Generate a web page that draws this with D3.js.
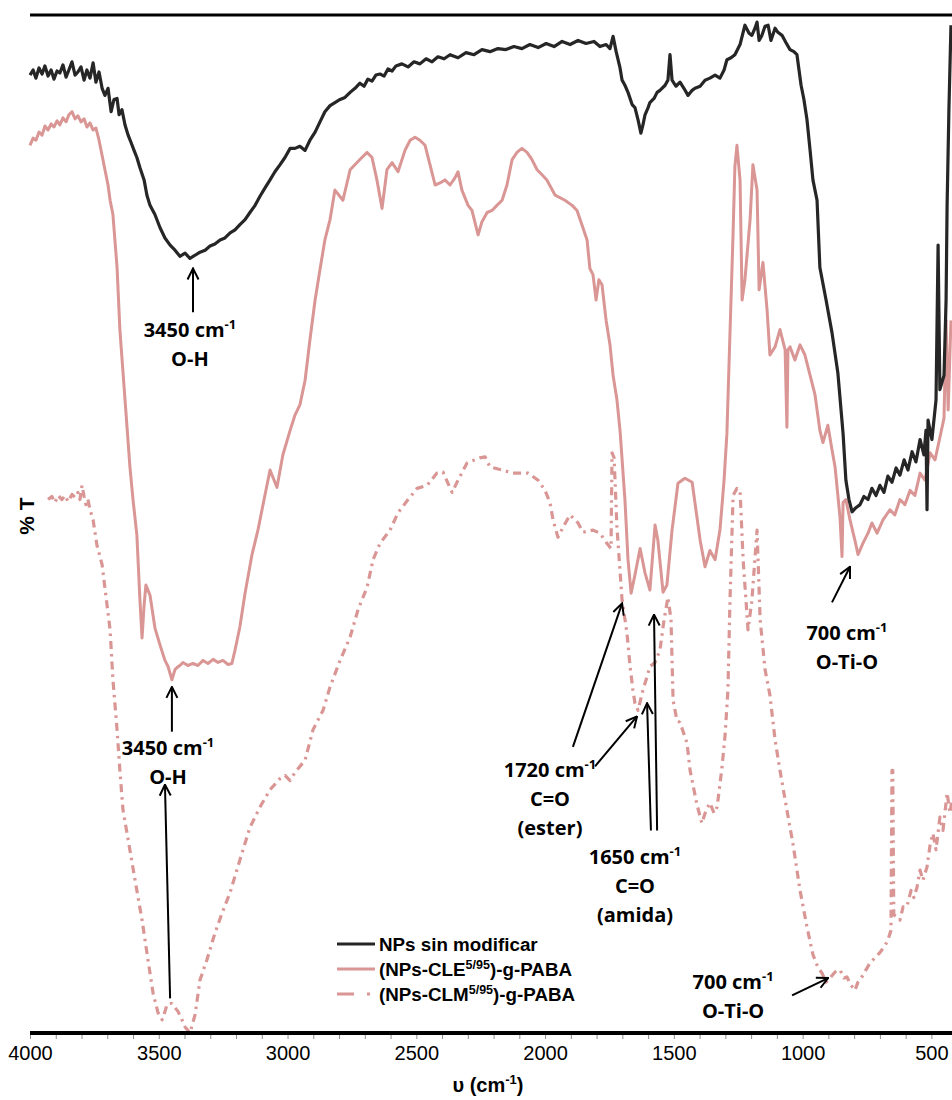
<!DOCTYPE html>
<html>
<head>
<meta charset="utf-8">
<script src="https://cdn.jsdelivr.net/npm/d3@7"></script>
<style>
  body { margin: 0; background: #ffffff; }
  svg { display: block; }
</style>
</head>
<body>
<svg id="chart" width="952" height="1100"></svg>
<script>
// FTIR spectra: wavenumber (cm-1) vs. transmittance (%T, offset traces)
const seriesNames = ["NPs sin modificar", "(NPs-CLE", "(NPs-CLM"];
const seriesSup = ["", "5/95", "5/95"];
const seriesTail = ["", ")-g-PABA", ")-g-PABA"];
const majorTicks = [4000, 3500, 3000, 2500, 2000, 1500, 1000, 500];
const minorTicks = d3.range(4000, 419, -100);

// NPs sin modificar  [wavenumber, %T]
const npsBare = [
  [4000,94.1],[3988,94.6],[3977,93.8],[3965,94.8],[3953,94.2],[3942,95.0],[3930,94.0],[3918,94.6],[3907,93.7],[3895,94.5],
  [3884,94.3],[3872,95.1],[3860,93.9],[3849,94.6],[3837,95.4],[3825,94.1],[3814,94.4],[3802,94.9],[3790,93.6],[3779,94.6],
  [3767,93.8],[3755,95.3],[3744,93.4],[3732,94.4],[3720,92.8],[3709,92.1],[3697,92.8],[3685,90.5],[3674,91.7],[3662,91.8],
  [3654,90.2],[3643,90.7],[3631,89.2],[3619,88.2],[3608,87.5],[3596,86.7],[3585,86.0],[3573,85.0],[3557,83.8],[3546,82.3],
  [3534,81.3],[3515,80.4],[3495,79.1],[3476,78.1],[3456,77.4],[3437,76.9],[3418,76.3],[3398,76.6],[3379,76.1],[3359,76.4],
  [3340,76.7],[3320,76.9],[3301,77.3],[3282,77.5],[3262,77.9],[3243,78.1],[3223,78.6],[3204,78.9],[3185,79.4],[3165,79.9],
  [3146,80.6],[3126,81.3],[3107,82.2],[3088,83.0],[3068,83.8],[3049,84.6],[3029,85.3],[3010,86.0],[2990,86.9],[2971,86.9],
  [2952,87.1],[2932,86.7],[2913,87.7],[2893,88.5],[2874,89.5],[2855,90.5],[2835,91.1],[2816,91.4],[2796,91.7],[2777,91.9],
  [2757,92.4],[2738,92.8],[2719,93.3],[2703,93.0],[2688,93.7],[2672,93.5],[2657,94.1],[2641,94.2],[2625,94.0],[2610,94.7],
  [2594,94.5],[2579,95.0],[2556,95.2],[2532,94.9],[2509,95.4],[2486,95.2],[2462,95.7],[2439,95.4],[2416,95.9],[2392,95.7],
  [2369,96.1],[2338,95.8],[2307,96.3],[2276,96.1],[2245,96.6],[2214,96.4],[2183,96.7],[2152,96.6],[2121,96.9],[2090,96.7],
  [2059,97.1],[2027,96.8],[1996,97.2],[1965,96.9],[1934,97.4],[1903,97.1],[1872,97.5],[1841,97.2],[1810,97.4],[1787,96.9],
  [1763,97.1],[1748,96.7],[1736,97.9],[1724,96.4],[1709,94.8],[1701,93.6],[1690,93.1],[1678,92.4],[1662,91.2],[1651,90.9],
  [1639,89.7],[1628,88.4],[1620,89.2],[1612,90.2],[1600,90.9],[1593,91.4],[1577,91.8],[1565,92.4],[1554,92.6],[1534,93.1],
  [1523,93.6],[1515,96.1],[1507,93.6],[1492,93.0],[1476,93.4],[1461,92.8],[1445,92.1],[1429,92.6],[1418,92.8],[1398,93.0],
  [1379,93.6],[1360,93.8],[1340,94.1],[1321,93.8],[1305,94.6],[1294,95.6],[1278,95.8],[1263,96.1],[1243,97.1],[1224,99.0],
  [1208,98.2],[1197,98.0],[1185,98.7],[1177,99.3],[1169,97.5],[1158,98.0],[1146,98.9],[1134,99.0],[1123,97.5],[1107,98.7],
  [1096,98.3],[1080,98.0],[1065,97.3],[1049,96.6],[1034,96.4],[1022,96.1],[1006,93.1],[995,91.7],[983,89.7],[971,86.7],
  [960,83.8],[944,81.8],[933,75.2],[909,72.0],[886,68.8],[863,64.8],[843,58.9],[832,54.3],[820,52.4],[808,51.2],
  [793,51.6],[777,51.9],[762,52.7],[746,52.4],[731,53.5],[715,52.8],[700,53.8],[684,53.1],[669,54.7],[653,54.1],
  [637,55.5],[622,54.8],[606,56.3],[591,55.3],[575,57.1],[560,56.1],[544,58.3],[529,56.8],[521,59.2],[517,51.4],
  [513,60.2],[498,58.3],[482,62.2],[474,77.4],[467,63.2],[451,64.6],[443,72.0],[439,81.3],[432,90.7],[424,99.0]
];

// (NPs-CLE5/95)-g-PABA
const npsCLE = [
  [4000,87.2],[3988,87.9],[3977,87.7],[3965,88.5],[3953,88.2],[3942,89.1],[3930,88.7],[3918,89.3],[3907,89.0],[3895,89.6],
  [3884,89.2],[3872,89.9],[3860,89.5],[3849,90.2],[3837,90.5],[3825,89.8],[3814,90.1],[3802,89.5],[3790,89.8],[3779,89.0],
  [3767,89.4],[3755,88.7],[3744,88.9],[3732,87.7],[3720,86.2],[3709,84.8],[3697,83.3],[3689,81.8],[3678,80.4],[3662,75.2],
  [3651,69.1],[3631,62.2],[3612,55.6],[3600,52.4],[3585,48.9],[3573,42.5],[3565,38.8],[3557,42.0],[3550,44.0],[3542,43.5],
  [3534,43.0],[3515,39.8],[3495,38.1],[3476,36.6],[3464,36.0],[3449,34.7],[3437,35.7],[3429,35.9],[3418,36.1],[3406,36.4],
  [3387,36.1],[3367,36.3],[3348,36.1],[3328,36.6],[3309,36.3],[3289,36.7],[3270,36.4],[3251,36.6],[3231,36.2],[3216,36.3],
  [3204,37.6],[3185,39.9],[3165,43.2],[3138,47.0],[3115,49.4],[3088,52.8],[3068,55.3],[3041,53.6],[3018,56.8],[2990,59.2],
  [2971,60.7],[2952,61.7],[2932,64.1],[2913,68.1],[2893,72.0],[2874,75.0],[2855,77.9],[2835,79.9],[2816,82.8],[2785,81.8],
  [2757,84.8],[2719,85.8],[2691,86.5],[2672,86.0],[2653,83.8],[2633,81.0],[2614,84.8],[2594,85.5],[2571,84.6],[2544,86.7],
  [2524,87.7],[2505,88.0],[2486,87.7],[2466,87.2],[2447,85.3],[2427,83.3],[2408,83.5],[2389,83.8],[2369,83.3],[2350,84.0],
  [2338,84.6],[2323,82.8],[2299,81.3],[2284,80.8],[2260,78.4],[2245,79.7],[2225,80.6],[2206,80.8],[2187,81.3],[2167,81.8],
  [2148,83.3],[2128,85.8],[2109,86.5],[2090,86.9],[2070,86.5],[2051,85.8],[2031,84.8],[2012,84.3],[1993,83.8],[1961,82.3],
  [1923,81.8],[1895,81.3],[1876,80.8],[1857,79.4],[1837,77.9],[1826,75.1],[1814,74.5],[1802,72.0],[1791,74.0],[1779,73.5],
  [1763,70.0],[1748,67.6],[1736,64.6],[1721,62.2],[1709,59.2],[1690,52.4],[1678,46.5],[1666,43.2],[1651,45.0],[1631,47.6],
  [1612,45.2],[1593,43.5],[1573,49.9],[1562,48.4],[1542,43.3],[1527,44.0],[1507,49.4],[1484,54.0],[1457,54.5],[1429,54.1],
  [1398,48.4],[1379,45.8],[1360,47.4],[1340,46.5],[1321,49.4],[1305,54.3],[1294,58.9],[1282,68.8],[1270,78.6],[1263,85.1],
  [1255,87.2],[1243,83.8],[1235,72.0],[1224,74.0],[1204,79.9],[1193,85.3],[1177,82.8],[1169,73.0],[1154,75.7],[1138,71.0],
  [1127,66.6],[1107,67.4],[1088,69.1],[1068,67.1],[1061,59.5],[1057,67.1],[1049,67.4],[1030,66.1],[1010,67.6],[991,66.6],
  [971,64.6],[952,62.7],[933,59.2],[921,58.0],[902,59.7],[886,57.3],[874,55.6],[855,50.7],[847,46.8],[843,52.1],
  [832,52.4],[816,50.4],[797,48.4],[785,47.0],[766,48.1],[746,49.1],[731,50.1],[711,49.1],[688,50.4],[661,51.4],
  [642,50.9],[622,52.4],[603,51.9],[583,53.3],[564,52.8],[544,55.0],[525,54.3],[505,57.0],[486,56.3],[467,58.5],
  [451,60.4],[443,70.0],[435,61.2],[424,70.0]
];

// (NPs-CLM5/95)-g-PABA
const npsCLM = [
  [3930,52.4],[3915,52.7],[3903,52.1],[3891,52.8],[3876,52.4],[3864,52.8],[3852,52.2],[3837,52.9],[3825,52.6],[3814,53.1],
  [3806,52.4],[3798,53.8],[3790,52.7],[3783,51.9],[3775,52.4],[3767,51.4],[3755,50.4],[3740,47.9],[3720,46.0],[3709,43.7],
  [3689,39.6],[3678,34.7],[3662,29.8],[3651,25.8],[3639,21.9],[3619,19.0],[3592,15.0],[3565,11.1],[3542,7.2],[3522,3.9],
  [3503,2.0],[3487,1.3],[3476,2.1],[3468,2.8],[3456,2.9],[3449,2.9],[3437,2.5],[3425,2.1],[3410,1.3],[3398,0.6],
  [3379,0.0],[3359,1.8],[3340,5.2],[3313,7.2],[3282,9.8],[3254,11.8],[3223,13.8],[3185,17.0],[3146,20.2],[3107,22.2],
  [3068,23.9],[3029,25.0],[3010,25.3],[2990,24.8],[2971,25.6],[2932,26.8],[2901,29.8],[2862,31.7],[2835,34.0],[2796,36.6],
  [2757,38.9],[2726,41.6],[2691,43.8],[2668,46.5],[2641,48.1],[2602,49.4],[2571,51.1],[2532,52.4],[2497,53.5],[2458,53.8],
  [2420,55.0],[2396,55.1],[2377,54.0],[2361,53.1],[2338,54.3],[2303,56.0],[2253,56.5],[2233,56.6],[2214,55.6],[2167,55.3],
  [2125,55.0],[2066,55.0],[2027,54.3],[2000,53.3],[1981,52.1],[1969,50.4],[1950,48.7],[1930,49.7],[1903,50.9],[1872,50.1],
  [1853,49.2],[1814,49.4],[1787,49.1],[1760,48.1],[1744,47.6],[1740,57.0],[1732,56.5],[1721,49.7],[1701,42.5],[1682,39.3],
  [1670,36.0],[1659,33.7],[1651,32.4],[1639,31.7],[1620,33.7],[1604,35.0],[1593,36.0],[1573,36.4],[1554,37.6],[1538,40.6],
  [1523,42.8],[1511,40.6],[1503,32.7],[1488,30.7],[1476,30.5],[1449,28.5],[1437,25.8],[1410,22.4],[1391,20.6],[1375,21.9],
  [1360,22.6],[1344,21.6],[1332,22.2],[1313,26.1],[1301,29.3],[1290,33.7],[1282,42.5],[1270,52.8],[1255,53.5],[1243,53.3],
  [1231,46.5],[1212,39.6],[1197,42.5],[1177,49.4],[1165,40.6],[1146,35.7],[1127,33.2],[1107,28.8],[1088,25.8],[1061,21.9],
  [1037,18.5],[1010,14.0],[983,10.4],[960,7.7],[940,6.4],[925,5.9],[909,5.0],[894,5.4],[874,6.0],[855,6.2],
  [839,5.4],[828,5.5],[812,4.7],[797,4.2],[785,5.0],[770,5.5],[754,6.2],[738,6.9],[719,7.4],[700,7.9],
  [680,8.6],[669,9.1],[657,10.1],[653,25.8],[650,25.8],[646,11.6],[634,11.4],[622,11.1],[610,12.4],[595,12.4],
  [579,14.0],[568,13.3],[556,14.3],[544,16.0],[533,15.0],[517,16.3],[505,18.5],[494,19.6],[482,18.0],[467,21.2],
  [455,19.9],[439,23.6],[428,21.6],[420,22.9]
];

// Band assignments: arrows (tail -> head) and label lines, in [wavenumber, %T]
const bandArrows = [
  { tail: [3367, 70.8], head: [3367, 75.1] },
  { tail: [3449, 29.6], head: [3449, 34.0] },
  { tail: [3456, 3.4],  head: [3476, 24.4] },
  { tail: [1892, 28.1], head: [1701, 42.2] },
  { tail: [1806, 26.2], head: [1643, 31.1] },
  { tail: [1589, 19.9], head: [1604, 32.4] },
  { tail: [1565, 19.9], head: [1577, 41.1] },
  { tail: [886, 42.3],  head: [816, 45.8] },
  { tail: [1041, 3.7],  head: [901, 5.4] }
];
const bandLabels = [
  { at: [3379, 68.4], lines: ["3450 cm|-1", "O-H"] },
  { at: [3464, 27.3], lines: ["3450 cm|-1", "O-H"] },
  { at: [1981, 25.1], lines: ["1720 cm|-1", "C=O", "(ester)"] },
  { at: [1651, 16.6], lines: ["1650 cm|-1", "C=O", "(amida)"] },
  { at: [828, 38.6],  lines: ["700 cm|-1", "O-Ti-O"] },
  { at: [1270, 4.3],  lines: ["700 cm|-1", "O-Ti-O"] }
];

const colBlack = "#262626";
const colPink = "#D99694";

const svg = d3.select("#chart");
const x = d3.scaleLinear().domain([4000, 420]).range([30, 952]);
const y = d3.scaleLinear().domain([0, 100]).range([1033, 15]);

const line = d3.line().x(d => x(d[0])).y(d => y(d[1]));

// top frame line
svg.append("line")
  .attr("x1", x(4000)).attr("x2", x(420))
  .attr("y1", y(100)).attr("y2", y(100))
  .attr("stroke", "#000").attr("stroke-width", 3);

// spectra
svg.append("path").datum(npsCLM)
  .attr("d", line).attr("fill", "none")
  .attr("stroke", colPink).attr("stroke-width", 3.2)
  .attr("stroke-dasharray", "8,5,2.5,5")
  .attr("stroke-linejoin", "round");

svg.append("path").datum(npsCLE)
  .attr("d", line).attr("fill", "none")
  .attr("stroke", colPink).attr("stroke-width", 3)
  .attr("stroke-linejoin", "round");

svg.append("path").datum(npsBare)
  .attr("d", line).attr("fill", "none")
  .attr("stroke", colBlack).attr("stroke-width", 3.2)
  .attr("stroke-linejoin", "round");

// bottom axis
const axis = d3.axisBottom(x)
  .tickValues(minorTicks)
  .tickSize(6)
  .tickPadding(7)
  .tickFormat(d => majorTicks.includes(d) ? d : "");
const gx = svg.append("g").attr("transform", `translate(0,${y(0)})`).call(axis);
gx.select(".domain").remove();
gx.selectAll(".tick line").attr("stroke", "#8c8c8c").attr("stroke-width", 1);
gx.selectAll(".tick text")
  .attr("font-family", "'Liberation Sans', Arial, sans-serif")
  .attr("font-size", 20)
  .attr("fill", "#000");
svg.append("line")
  .attr("x1", x(4000)).attr("x2", x(420))
  .attr("y1", y(0)).attr("y2", y(0))
  .attr("stroke", "#000").attr("stroke-width", 4);

// axis titles
const xt = svg.append("text")
  .attr("x", 488).attr("y", 1092)
  .attr("text-anchor", "middle")
  .attr("font-family", "'Liberation Sans', Arial, sans-serif")
  .attr("font-weight", "bold").attr("font-size", 20).attr("fill", "#000");
xt.append("tspan").text("υ (cm");
xt.append("tspan").attr("dy", -8).attr("font-size", 13).text("-1");
xt.append("tspan").attr("dy", 8).text(")");

svg.append("text")
  .attr("transform", "translate(34,516) rotate(-90)")
  .attr("text-anchor", "middle")
  .attr("font-family", "'Liberation Sans', Arial, sans-serif")
  .attr("font-weight", "bold").attr("font-size", 21).attr("fill", "#000")
  .text("% T");

// arrows
svg.append("defs").append("marker")
  .attr("id", "head")
  .attr("viewBox", "0 0 14 14")
  .attr("refX", 13).attr("refY", 7)
  .attr("markerWidth", 14).attr("markerHeight", 14)
  .attr("markerUnits", "userSpaceOnUse")
  .attr("orient", "auto")
  .append("path")
  .attr("d", "M2,1.5 L13,7 L2,12.5")
  .attr("fill", "none").attr("stroke", "#000").attr("stroke-width", 2);

svg.append("g").selectAll("line").data(bandArrows).join("line")
  .attr("x1", d => x(d.tail[0])).attr("y1", d => y(d.tail[1]))
  .attr("x2", d => x(d.head[0])).attr("y2", d => y(d.head[1]))
  .attr("stroke", "#000").attr("stroke-width", 2)
  .attr("marker-end", "url(#head)");

// band labels
const lbl = svg.append("g")
  .attr("font-family", "'Open Sans', 'Noto Sans', sans-serif")
  .attr("font-weight", "bold").attr("font-size", 20).attr("fill", "#000")
  .attr("text-anchor", "middle");
bandLabels.forEach(b => {
  b.lines.forEach((ln, i) => {
    const t = lbl.append("text")
      .attr("x", x(b.at[0]))
      .attr("y", y(b.at[1]) + i * 29);
    const parts = ln.split("|");
    t.append("tspan").text(parts[0]);
    if (parts[1]) {
      t.append("tspan").attr("dy", -8).attr("font-size", 13).text(parts[1]);
    }
  });
});

// legend
const legend = svg.append("g")
  .attr("font-family", "'Liberation Sans', Arial, sans-serif")
  .attr("font-weight", "bold").attr("font-size", 18.8).attr("fill", "#000");
const legStyles = [
  { color: colBlack, dash: null },
  { color: colPink, dash: null },
  { color: colPink, dash: "17,13,3,13" }
];
seriesNames.forEach((name, i) => {
  const cy = 944 + i * 25;
  legend.append("line")
    .attr("x1", 337).attr("x2", 375).attr("y1", cy).attr("y2", cy)
    .attr("stroke", legStyles[i].color).attr("stroke-width", 3)
    .attr("stroke-dasharray", legStyles[i].dash);
  const t = legend.append("text").attr("x", 379).attr("y", cy + 6.8);
  t.append("tspan").text(name);
  if (seriesSup[i]) {
    t.append("tspan").attr("dy", -7).attr("font-size", 12.5).text(seriesSup[i]);
    t.append("tspan").attr("dy", 7).text(seriesTail[i]);
  }
});
</script>
</body>
</html>
